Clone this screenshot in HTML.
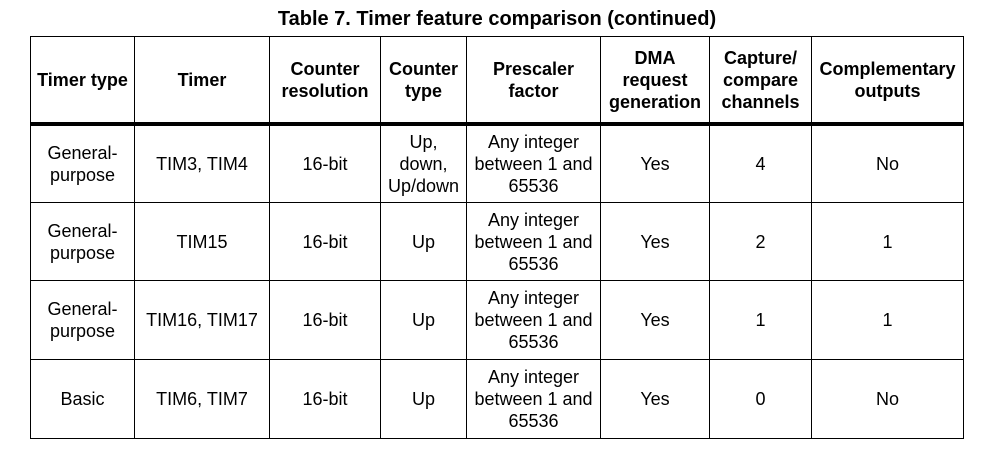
<!DOCTYPE html>
<html><head><meta charset="utf-8"><style>
body{margin:0;width:994px;height:460px;background:#fff;font-family:"Liberation Sans",Arial,sans-serif;color:#000;position:relative;overflow:hidden}
.t{position:absolute;top:7px;left:0;width:994px;text-align:center;font-weight:bold;font-size:20px;line-height:24px}
table{position:absolute;left:30px;top:36px;border-collapse:collapse;table-layout:fixed}
td,th{border:1px solid #000;text-align:center;vertical-align:middle;font-size:18px;line-height:22px;padding:0;white-space:nowrap}
th{font-weight:bold;height:85px}
tr.h th{border-bottom:4px solid #000}
tr.r1 td{height:76px}
tr.r2 td{height:77px}
tr.r3 td,tr.r4 td{height:78px}
</style></head><body>
<div class="t">Table 7. Timer feature comparison (continued)</div>
<table>
<colgroup><col style="width:104px"><col style="width:135px"><col style="width:111px"><col style="width:86px"><col style="width:134px"><col style="width:109px"><col style="width:102px"><col style="width:152px"></colgroup>
<tr class="h"><th>Timer type</th><th>Timer</th><th>Counter<br>resolution</th><th>Counter<br>type</th><th>Prescaler<br>factor</th><th>DMA<br>request<br>generation</th><th>Capture/<br>compare<br>channels</th><th>Complementary<br>outputs</th></tr>
<tr class="r1"><td>General-<br>purpose</td><td>TIM3, TIM4</td><td>16-bit</td><td>Up,<br>down,<br>Up/down</td><td>Any integer<br>between 1 and<br>65536</td><td>Yes</td><td>4</td><td>No</td></tr>
<tr class="r2"><td>General-<br>purpose</td><td>TIM15</td><td>16-bit</td><td>Up</td><td>Any integer<br>between 1 and<br>65536</td><td>Yes</td><td>2</td><td>1</td></tr>
<tr class="r3"><td>General-<br>purpose</td><td>TIM16, TIM17</td><td>16-bit</td><td>Up</td><td>Any integer<br>between 1 and<br>65536</td><td>Yes</td><td>1</td><td>1</td></tr>
<tr class="r4"><td>Basic</td><td>TIM6, TIM7</td><td>16-bit</td><td>Up</td><td>Any integer<br>between 1 and<br>65536</td><td>Yes</td><td>0</td><td>No</td></tr>
</table>
</body></html>
